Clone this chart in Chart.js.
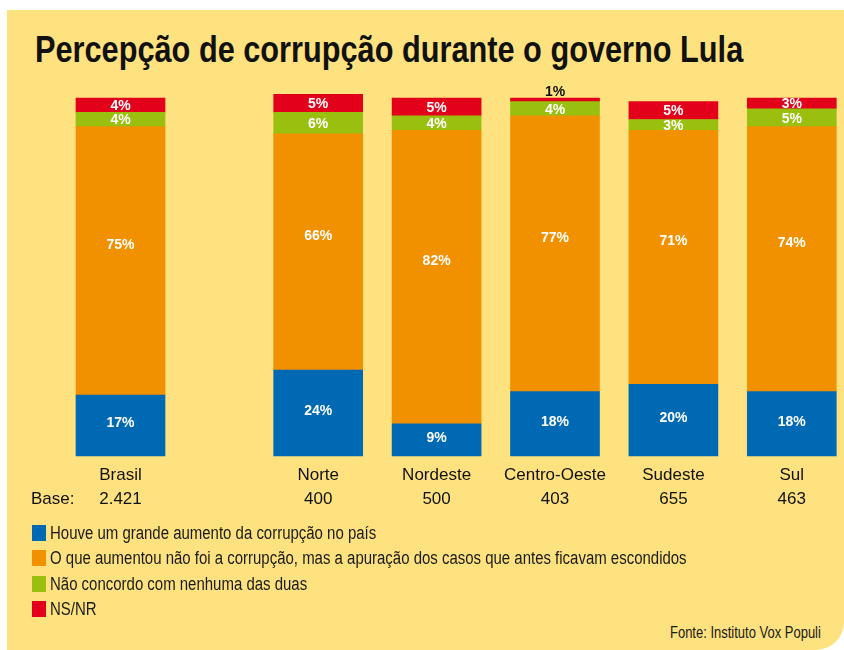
<!DOCTYPE html>
<html><head><meta charset="utf-8">
<script src="https://cdn.jsdelivr.net/npm/chart.js@4"></script>
<style>
html,body{margin:0;padding:0;width:844px;height:650px;overflow:hidden;background:#fff;}
#panel{position:absolute;left:7px;top:10px;width:837px;height:640px;background:#FEE27F;border-bottom-right-radius:28px;}
#title{position:absolute;left:35px;top:31px;font-family:"Liberation Sans",Arial,sans-serif;font-weight:bold;font-size:37px;line-height:1;color:#111;white-space:nowrap;transform-origin:0 0;}
canvas{position:absolute;}
#base{position:absolute;left:31px;top:489px;font-family:"Liberation Sans",Arial,sans-serif;font-size:17px;line-height:20px;color:#111;}
.leg{position:absolute;left:32px;height:18px;font-family:"Liberation Sans",Arial,sans-serif;font-size:18px;line-height:18px;color:#1a1a1a;white-space:nowrap;}
.leg span.sw{position:absolute;left:0;top:1px;width:14px;height:16px;}
.leg span.tx{position:absolute;left:18px;top:0;transform-origin:0 50%;}
#fonte{position:absolute;right:23px;top:624px;font-family:"Liberation Sans",Arial,sans-serif;font-size:16px;line-height:18px;color:#1a1a1a;white-space:nowrap;transform-origin:100% 50%;}
</style></head>
<body>
<div id="panel"></div>
<div id="title">Percepção de corrupção durante o governo Lula</div>
<canvas id="c1" width="119" height="432" style="left:61px;top:80px;"></canvas>
<canvas id="c2" width="592" height="432" style="left:259px;top:80px;"></canvas>
<div id="base">Base:</div>
<div id="legend"></div>
<div id="fonte">Fonte: Instituto Vox Populi</div>
<script>
// ---- data ----
const regions = ['Brasil', 'Norte', 'Nordeste', 'Centro-Oeste', 'Sudeste', 'Sul'];
const bases = ['2.421', '400', '500', '403', '655', '463'];
const seriesNames = [
  'Houve um grande aumento da corrupção no país',
  'O que aumentou não foi a corrupção, mas a apuração dos casos que antes ficavam escondidos',
  'Não concordo com nenhuma das duas',
  'NS/NR'
];
const aumento     = [17, 24, 9, 18, 20, 18];
const apuracao    = [75, 66, 82, 77, 71, 74];
const naoConcordo = [4, 6, 4, 4, 3, 5];
const nsnr        = [4, 5, 5, 1, 5, 3];
const colors = ['#0069B4', '#F29100', '#99BF0F', '#E2001A'];
// vertical nudge of the value labels per series (style)
const labelShift = [-3, -17, 0, 0];

// title fit
const t = document.getElementById('title');
t.style.transform = 'scaleX(' + (708 / t.offsetWidth) + ')';

// legend
const leg = document.getElementById('legend');
const rowCenters = [533, 558, 584, 609];
const spans = [];
seriesNames.forEach((n, i) => {
  const d = document.createElement('div');
  d.className = 'leg';
  d.style.top = (rowCenters[i] - 9) + 'px';
  d.innerHTML = '<span class="sw" style="background:' + colors[i] + '"></span><span class="tx">' + n + '</span>';
  leg.appendChild(d);
  spans.push(d.querySelector('.tx'));
});
const legScale = 326 / spans[0].offsetWidth;
spans.forEach(s => s.style.transform = 'scaleX(' + legScale + ')');
const f = document.getElementById('fonte');
f.style.transform = 'scaleX(' + (151 / f.offsetWidth) + ')';

const valueLabels = {
  id: 'valueLabels',
  afterDatasetsDraw(chart) {
    const ctx = chart.ctx;
    ctx.save();
    ctx.font = 'bold 14px "Liberation Sans", Arial, sans-serif';
    ctx.textAlign = 'center';
    ctx.textBaseline = 'middle';
    chart.data.datasets.forEach((ds, i) => {
      const meta = chart.getDatasetMeta(i);
      meta.data.forEach((bar, j) => {
        const v = ds.data[j];
        const top = Math.min(bar.y, bar.base), bot = Math.max(bar.y, bar.base);
        if (v < 2) {
          ctx.fillStyle = '#111';
          ctx.fillText(v + '%', bar.x, top - 6);
        } else {
          ctx.fillStyle = '#fff';
          ctx.fillText(v + '%', bar.x, (top + bot) / 2 + 1 + labelShift[i]);
        }
      });
    });
    ctx.restore();
  }
};

const allSeries = [aumento, apuracao, naoConcordo, nsnr];

function makeChart(id, from, to) {
  const labels = [];
  for (let k = from; k < to; k++) labels.push([regions[k], bases[k]]);
  return new Chart(document.getElementById(id), {
    type: 'bar',
    data: {
      labels: labels,
      datasets: allSeries.map((s, i) => ({
        label: seriesNames[i],
        data: s.slice(from, to),
        backgroundColor: colors[i],
        borderWidth: 0,
        barThickness: 89,
        clip: false
      }))
    },
    options: {
      responsive: false,
      animation: false,
      devicePixelRatio: 1,
      layout: { padding: { top: 18, left: 0, right: 0, bottom: 0 } },
      plugins: { legend: { display: false }, tooltip: { enabled: false }, title: { display: false } },
      scales: {
        x: {
          stacked: true,
          grid: { display: false, drawTicks: false },
          border: { display: false },
          ticks: {
            color: '#111',
            padding: 7,
            maxRotation: 0,
            autoSkip: false,
            font: { family: '"Liberation Sans", Arial, sans-serif', size: 17, lineHeight: 24 / 17 }
          },
          afterFit(s) { s.height = 56; }
        },
        y: { stacked: true, display: false, min: 0, max: 100 }
      }
    },
    plugins: [valueLabels]
  });
}
makeChart('c1', 0, 1);
makeChart('c2', 1, 6);
</script>
</body></html>
